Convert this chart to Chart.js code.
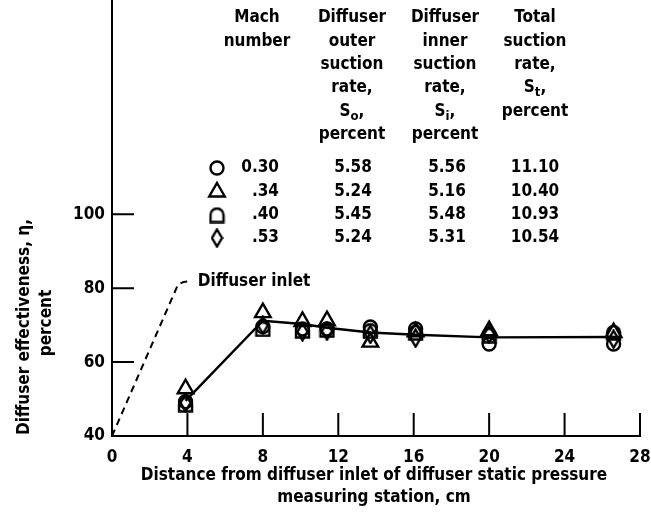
<!DOCTYPE html>
<html>
<head>
<meta charset="utf-8">
<script src="https://cdn.jsdelivr.net/npm/chart.js@4.4.0/dist/chart.umd.min.js"></script>
<style>
  html, body { margin: 0; padding: 0; background: #fff; }
  #wrap { width: 651px; height: 522px; }
</style>
</head>
<body>
<div id="wrap"><canvas id="chart" width="651" height="522"></canvas></div>
<script>
// measuring stations, cm from diffuser inlet
const stations = [3.9, 8.0, 10.1, 11.4, 13.7, 16.1, 20.0, 26.6];

// diffuser effectiveness, percent, one list per Mach number
const eta030 = [49.3, 69.6, 69.0, 69.0, 69.5, 69.0, 64.9, 64.9];
const eta034 = [52.8, 73.4, 71.0, 71.2, 65.4, 68.2, 68.5, 68.0];
const eta040 = [48.6, 69.0, 68.6, 68.8, 68.5, 68.0, 67.3, 68.0];
const eta053 = [49.0, 70.0, 68.2, 68.4, 67.5, 66.5, 67.6, 66.2];

// faired curve through the data
const fairedEta = [49.5, 71.2, 70.3, 69.3, 68.0, 67.4, 66.7, 66.8];

// dashed leader to "Diffuser inlet"
const inletX = [0, 3.5, 3.8, 4.2];
const inletY = [40, 81.0, 81.7, 81.9];

// table
const machLabels = ['0.30', '.34', '.40', '.53'];
const outerRates = ['5.58', '5.24', '5.45', '5.24'];
const innerRates = ['5.56', '5.16', '5.48', '5.31'];
const totalRates = ['11.10', '10.40', '10.93', '10.54'];

const xTicks = [0, 4, 8, 12, 16, 20, 24, 28];
const yTicks = [40, 60, 80, 100];

const FONT = '"DejaVu Sans Condensed", "DejaVu Sans", sans-serif';
const TXT = 'bold 17px ' + FONT;

// ---- marker icons ----
function archIcon() {
    const c = document.createElement('canvas'); c.width = 17; c.height = 17;
    const g = c.getContext('2d');
    g.lineWidth = 2.4; g.strokeStyle = '#000';
    g.beginPath();
    g.moveTo(2, 15.5); g.lineTo(2, 8.5); g.arc(8.5, 8.5, 6.5, Math.PI, 0); g.lineTo(15, 15.5); g.closePath();
    g.stroke();
    return c;
}
function diamondIcon() {
    const c = document.createElement('canvas'); c.width = 13; c.height = 20;
    const g = c.getContext('2d');
    g.lineWidth = 2.4; g.strokeStyle = '#000';
    g.beginPath();
    g.moveTo(6.5, 1.5); g.lineTo(11.5, 10); g.lineTo(6.5, 18.5); g.lineTo(1.5, 10); g.closePath();
    g.stroke();
    return c;
}
const arch = archIcon(), diamond = diamondIcon();

const pts = ys => stations.map((s, i) => ({ x: s, y: ys[i] }));

function markerSet(ys, style, r) {
    return {
        type: 'scatter', data: pts(ys), pointStyle: style, pointRadius: r,
        borderColor: '#000', backgroundColor: 'rgba(0,0,0,0)', pointBorderWidth: 2.4, showLine: false
    };
}

// ---- decorations: inward ticks, labels, table ----
function drawSymbol(ctx, kind, x, y) {
    ctx.lineWidth = 2.4;
    ctx.beginPath();
    if (kind === 0) { ctx.arc(x, y, 6.5, 0, Math.PI * 2); ctx.stroke(); }
    else if (kind === 1) {
        const r = 9;
        ctx.moveTo(x, y - r); ctx.lineTo(x + r * 0.866, y + r / 2); ctx.lineTo(x - r * 0.866, y + r / 2); ctx.closePath(); ctx.stroke();
    }
    else if (kind === 2) ctx.drawImage(arch, x - 8.5, y - 8.5);
    else ctx.drawImage(diamond, x - 6.5, y - 10);
}

function subText(ctx, main, sub, cx, cy) {
    ctx.font = TXT;
    const w1 = ctx.measureText(main).width;
    ctx.font = 'bold 13px ' + FONT;
    const w2 = ctx.measureText(sub).width;
    ctx.font = TXT;
    const w3 = ctx.measureText(',').width;
    let x = cx - (w1 + w2 + w3) / 2;
    ctx.textAlign = 'left';
    ctx.fillText(main, x, cy); x += w1;
    ctx.font = 'bold 13px ' + FONT; ctx.fillText(sub, x, cy + 5); x += w2;
    ctx.font = TXT; ctx.fillText(',', x, cy);
}

const decor = {
    id: 'decor',
    afterDraw(chart) {
        const { ctx, chartArea: a, scales: { x, y } } = chart;
        ctx.save();
        ctx.strokeStyle = '#000'; ctx.fillStyle = '#000'; ctx.lineWidth = 2;
        ctx.beginPath();
        xTicks.slice(1).forEach(v => {
            const px = x.getPixelForValue(v);
            ctx.moveTo(px, a.bottom); ctx.lineTo(px, a.bottom - 23);
        });
        yTicks.slice(1).forEach(v => {
            const py = y.getPixelForValue(v);
            ctx.moveTo(a.left, py); ctx.lineTo(a.left + 22, py);
        });
        ctx.stroke();

        ctx.textBaseline = 'middle';
        ctx.font = TXT;
        ctx.textAlign = 'left';
        ctx.fillText('Diffuser inlet', x.getPixelForValue(4.55), y.getPixelForValue(81.9));

        // x axis title
        ctx.textAlign = 'center';
        ctx.fillText('Distance from diffuser inlet of diffuser static pressure', 374, 476);
        ctx.fillText('measuring station, cm', 374, 498);

        // y axis title
        ctx.save();
        ctx.translate(25, 327); ctx.rotate(-Math.PI / 2);
        ctx.fillText('Diffuser effectiveness, \u03b7,', 0, 0);
        ctx.restore();
        ctx.save();
        ctx.translate(47, 323); ctx.rotate(-Math.PI / 2);
        ctx.fillText('percent', 0, 0);
        ctx.restore();

        // table headers
        const hy = [18, 42, 65, 88, 112, 135];
        ctx.textAlign = 'center';
        ['Mach', 'number'].forEach((t, i) => ctx.fillText(t, 257, hy[i]));
        ['Diffuser', 'outer', 'suction', 'rate,'].forEach((t, i) => ctx.fillText(t, 352, hy[i]));
        subText(ctx, 'S', 'o', 352, hy[4]);
        ctx.textAlign = 'center'; ctx.fillText('percent', 352, hy[5]);
        ['Diffuser', 'inner', 'suction', 'rate,'].forEach((t, i) => ctx.fillText(t, 445, hy[i]));
        subText(ctx, 'S', 'i', 445, hy[4]);
        ctx.textAlign = 'center'; ctx.fillText('percent', 445, hy[5]);
        ['Total', 'suction', 'rate,'].forEach((t, i) => ctx.fillText(t, 535, hy[i]));
        subText(ctx, 'S', 't', 535, hy[3]);
        ctx.textAlign = 'center'; ctx.fillText('percent', 535, hy[4]);

        // table rows
        const ry = [168, 192, 215, 238];
        ry.forEach((yy, i) => {
            drawSymbol(ctx, i, 217, yy);
            ctx.textAlign = 'right'; ctx.fillText(machLabels[i], 279, yy);
            ctx.textAlign = 'center';
            ctx.fillText(outerRates[i], 353, yy);
            ctx.fillText(innerRates[i], 447, yy);
            ctx.fillText(totalRates[i], 535, yy);
        });
        ctx.restore();
    }
};

function noPad(s) { s.paddingTop = 0; s.paddingBottom = 0; s.paddingLeft = 0; s.paddingRight = 0; }

new Chart(document.getElementById('chart'), {
    type: 'scatter',
    data: {
        datasets: [
            {
                type: 'line', data: pts(fairedEta), borderColor: '#000', borderWidth: 2.4,
                pointRadius: 0, tension: 0, fill: false
            },
            {
                type: 'line', data: inletX.map((v, i) => ({ x: v, y: inletY[i] })), borderColor: '#000',
                borderWidth: 2, borderDash: [7, 5], pointRadius: 0, tension: 0, fill: false
            },
            markerSet(eta030, 'circle', 6.5),
            markerSet(eta034, 'triangle', 9),
            markerSet(eta040, arch, 8.5),
            markerSet(eta053, diamond, 10)
        ]
    },
    options: {
        responsive: false, animation: false,
        layout: { autoPadding: false, padding: { left: 0, right: 11, top: 0, bottom: 0 } },
        plugins: { legend: { display: false }, tooltip: { enabled: false } },
        scales: {
            x: {
                type: 'linear', min: 0, max: 28,
                afterBuildTicks: s => { s.ticks = xTicks.map(v => ({ value: v })); },
                afterFit: s => { s.height = 86; noPad(s); },
                grid: { display: false, drawTicks: false },
                border: { display: true, color: '#000', width: 2 },
                ticks: { color: '#000', padding: 11, maxRotation: 0, font: { family: FONT, size: 17, weight: 'bold' } }
            },
            y: {
                type: 'linear', min: 40, max: 158,
                afterBuildTicks: s => { s.ticks = yTicks.map(v => ({ value: v })); },
                afterFit: s => { s.width = 112; noPad(s); },
                grid: { display: false, drawTicks: false },
                border: { display: true, color: '#000', width: 2 },
                ticks: { color: '#000', padding: 7, font: { family: FONT, size: 17, weight: 'bold' } }
            }
        }
    },
    plugins: [decor]
});
</script>
</body>
</html>
